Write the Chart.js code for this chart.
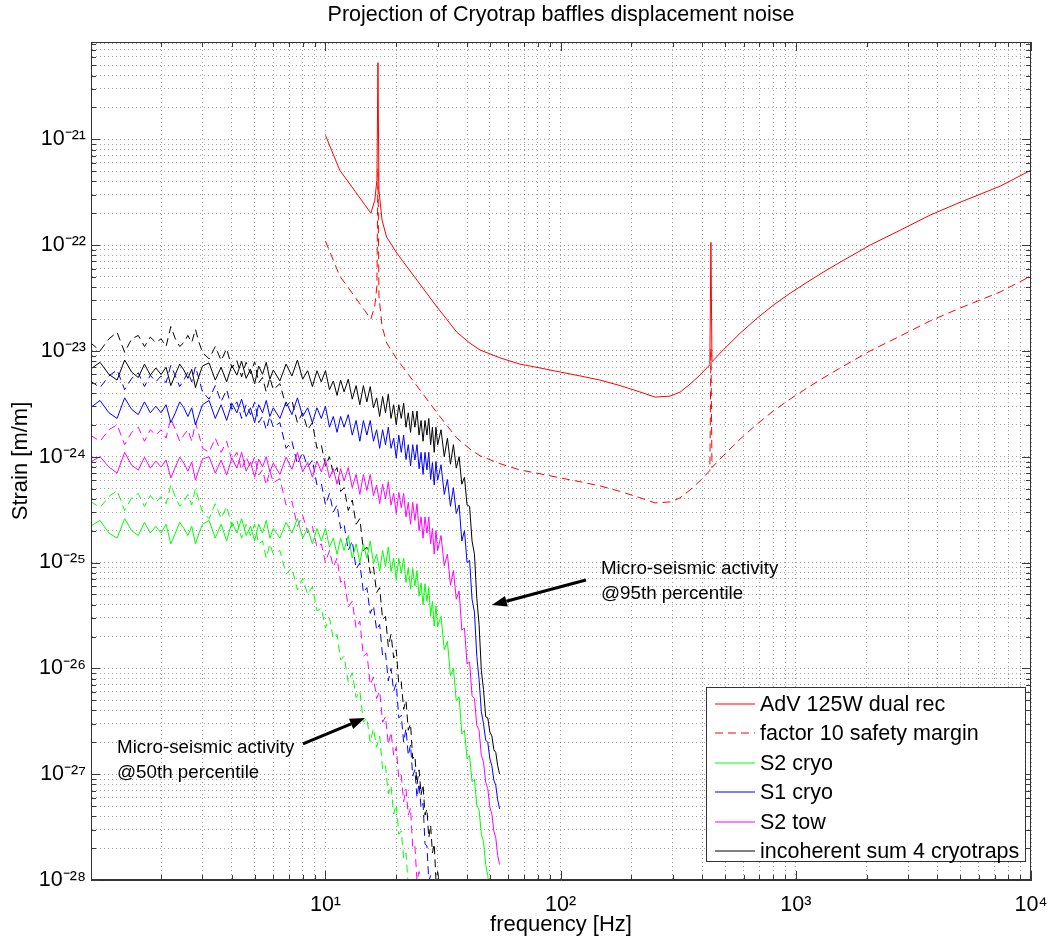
<!DOCTYPE html>
<html>
<head>
<meta charset="utf-8">
<script src="https://cdn.jsdelivr.net/npm/chart.js@4/dist/chart.umd.min.js"></script>
<style>
  html, body { margin: 0; padding: 0; background: #ffffff; }
  canvas { display: block; }
</style>
</head>
<body>
<canvas id="chart" width="1049" height="943"></canvas>
<script>
// ---------------- data ----------------
const noiseFreq = [
  1.0,1.1,1.2,1.3,1.4,1.5,1.6,1.7,1.8,1.9,
  2.0,2.1,2.2,2.3,2.4,2.5,2.6,2.7,2.8,2.9,
  3.0,3.2,3.4,3.6,3.8,4.0,4.2,4.4,4.6,4.8,
  5.0,5.2,5.4,5.6,5.8,6.0,6.4,6.8,7.2,7.6,
  8.0,8.4,8.8,9.2,9.6,10.0,10.4,10.8,11.2,11.6,
  12.0,12.5,13.0,13.5,14.0,14.5,15.0,15.5,16.0,16.5,
  17.0,17.5,18.0,18.5,19.0,19.5,20.0,20.5,21.0,21.5,
  22.0,22.5,23.0,23.5,24.0,24.5,25.0,25.5,26.0,26.5,
  27.0,27.5,28.0,28.5,29.0,29.5,30.0,31,32,33,
  34,35,36,37,38,39,40,41,42,43,
  44,45,46,47,48,49,50,51,52,53,
  54,55
];

// 95th percentile micro-seismic activity (solid lines)
const s2CryoP95 = [
  2.2e-25,2.5e-25,1.9e-25,1.7e-25,2.6e-25,2.0e-25,1.8e-25,2.4e-25,1.9e-25,2.2e-25,
  1.9e-25,2.3e-25,1.5e-25,1.9e-25,2.4e-25,2.1e-25,1.8e-25,2.2e-25,1.5e-25,1.9e-25,
  2.3e-25,2.5e-25,1.7e-25,2.3e-25,1.6e-25,2.4e-25,1.9e-25,2.6e-25,1.8e-25,2.2e-25,
  1.6e-25,2.3e-25,1.9e-25,2.5e-25,1.7e-25,2.1e-25,1.7e-25,2.4e-25,1.9e-25,2.6e-25,
  1.7e-25,2.1e-25,1.5e-25,2.1e-25,1.6e-25,2.1e-25,1.4e-25,1.7e-25,1.2e-25,1.7e-25,
  1.3e-25,1.8e-25,1.1e-25,1.5e-25,1.0e-25,1.5e-25,1.1e-25,1.6e-25,9.8e-26,1.2e-25,
  8.3e-26,1.3e-25,9.2e-26,1.4e-25,8.2e-26,1.1e-25,6.8e-26,1.1e-25,7.9e-26,1.1e-25,
  6.5e-26,8.9e-26,5.6e-26,8.8e-26,6.0e-26,8.4e-26,4.8e-26,6.4e-26,4.0e-26,6.3e-26,
  4.3e-26,5.8e-26,3.1e-26,4.3e-26,2.5e-26,3.9e-26,2.5e-26,3.1e-26,1.5e-26,1.8e-26,
  8.5e-27,1.0e-26,4.9e-27,5.4e-27,2.4e-27,2.6e-27,1.4e-27,1.5e-27,8.5e-28,8.9e-28,
  5.1e-28,4.6e-28,2.7e-28,2.3e-28,1.4e-28,1.1e-28,7.2e-29
];
const s1CryoP95 = [
  2.9e-24,3.4e-24,2.6e-24,2.3e-24,3.6e-24,2.8e-24,2.5e-24,3.3e-24,2.6e-24,3.0e-24,
  2.6e-24,3.1e-24,2.1e-24,2.6e-24,3.3e-24,2.9e-24,2.4e-24,2.9e-24,2.0e-24,2.5e-24,
  3.1e-24,3.4e-24,2.3e-24,3.1e-24,2.2e-24,3.2e-24,2.6e-24,3.5e-24,2.4e-24,2.9e-24,
  2.1e-24,3.1e-24,2.6e-24,3.4e-24,2.4e-24,2.9e-24,2.3e-24,3.3e-24,2.5e-24,3.6e-24,
  2.4e-24,2.9e-24,2.1e-24,2.9e-24,2.3e-24,3.0e-24,1.9e-24,2.4e-24,1.7e-24,2.4e-24,
  1.9e-24,2.5e-24,1.6e-24,2.2e-24,1.4e-24,2.2e-24,1.6e-24,2.2e-24,1.4e-24,1.8e-24,
  1.2e-24,1.8e-24,1.3e-24,1.9e-24,1.2e-24,1.5e-24,9.7e-25,1.6e-24,1.1e-24,1.6e-24,
  9.4e-25,1.3e-24,8.2e-25,1.3e-24,9.3e-25,1.3e-24,7.7e-25,1.1e-24,6.8e-25,1.1e-24,
  7.5e-25,1.1e-24,6.1e-25,8.8e-25,5.4e-25,9.0e-25,6.0e-25,8.4e-25,4.4e-25,6.1e-25,
  3.4e-25,5.1e-25,2.9e-25,3.5e-25,1.6e-25,2.0e-25,1.0e-25,1.05e-25,4.5e-26,3.4e-26,
  1.3e-26,7.8e-27,3.9e-27,3.0e-27,2.1e-27,2.0e-27,1.4e-27,1.2e-27,8.8e-28,7.8e-28,
  5.7e-28,4.7e-28
];
const s2TowP95 = [
  8.9e-25,1.0e-24,8.0e-25,7.0e-25,1.1e-24,8.3e-25,7.5e-25,9.9e-25,7.8e-25,9.1e-25,
  8.0e-25,9.3e-25,6.3e-25,8.0e-25,9.9e-25,8.7e-25,7.3e-25,8.9e-25,6.0e-25,7.6e-25,
  9.5e-25,1.0e-24,7.0e-25,9.3e-25,6.7e-25,9.7e-25,7.8e-25,1.1e-24,7.3e-25,8.9e-25,
  6.4e-25,9.5e-25,8.0e-25,1.0e-24,7.2e-25,8.7e-25,6.8e-25,9.9e-25,7.6e-25,1.1e-24,
  7.2e-25,8.8e-25,6.4e-25,9.1e-25,7.2e-25,9.4e-25,6.3e-25,7.7e-25,5.5e-25,7.7e-25,
  5.9e-25,7.9e-25,5.1e-25,6.8e-25,4.4e-25,6.8e-25,4.8e-25,6.8e-25,4.3e-25,5.4e-25,
  3.6e-25,5.5e-25,4.0e-25,5.8e-25,3.5e-25,4.5e-25,2.9e-25,4.6e-25,3.3e-25,4.5e-25,
  2.7e-25,3.7e-25,2.3e-25,3.7e-25,2.5e-25,3.6e-25,2.0e-25,2.7e-25,1.7e-25,2.7e-25,
  1.9e-25,2.7e-25,1.5e-25,2.1e-25,1.2e-25,2.0e-25,1.3e-25,1.8e-25,9.3e-26,1.2e-25,
  6.1e-26,8.4e-26,4.5e-26,5.4e-26,2.3e-26,2.4e-26,1.1e-26,1.15e-26,5.5e-27,5.2e-27,
  2.9e-27,2.6e-27,1.5e-27,1.3e-27,8.4e-28,7.3e-28,4.9e-28,4.2e-28,2.9e-28,2.5e-28,
  1.7e-28,1.4e-28
];
const sumP95 = [
  6.7e-24,7.8e-24,6.0e-24,5.3e-24,8.2e-24,6.3e-24,5.6e-24,7.5e-24,5.9e-24,6.9e-24,
  6.0e-24,7.0e-24,4.7e-24,6.0e-24,7.5e-24,6.6e-24,5.5e-24,6.7e-24,4.5e-24,5.8e-24,
  7.2e-24,7.7e-24,5.3e-24,7.0e-24,5.1e-24,7.3e-24,5.9e-24,8.0e-24,5.5e-24,6.7e-24,
  4.9e-24,7.2e-24,6.0e-24,7.8e-24,5.4e-24,6.6e-24,5.2e-24,7.5e-24,5.8e-24,8.2e-24,
  5.4e-24,6.5e-24,4.6e-24,6.5e-24,5.1e-24,6.5e-24,4.3e-24,5.2e-24,3.8e-24,5.3e-24,
  4.1e-24,5.4e-24,3.5e-24,4.7e-24,3.1e-24,4.7e-24,3.3e-24,4.6e-24,2.9e-24,3.6e-24,
  2.4e-24,3.7e-24,2.6e-24,3.9e-24,2.3e-24,3.1e-24,2.0e-24,3.1e-24,2.3e-24,3.2e-24,
  1.9e-24,2.6e-24,1.7e-24,2.7e-24,1.9e-24,2.7e-24,1.6e-24,2.2e-24,1.4e-24,2.2e-24,
  1.6e-24,2.3e-24,1.3e-24,1.9e-24,1.1e-24,1.9e-24,1.3e-24,1.8e-24,1.0e-24,1.5e-24,
  8.5e-25,1.3e-24,7.8e-25,1.0e-24,5.5e-25,6.4e-25,3.5e-25,3.4e-25,1.6e-25,1.2e-25,
  4.6e-26,2.6e-26,9.6e-27,6.3e-27,3.5e-27,3.4e-27,2.5e-27,2.3e-27,1.7e-27,1.6e-27,
  1.2e-27,1.0e-27
];

// 50th percentile micro-seismic activity (dashed lines)
const s2CryoP50 = [
  3.8e-25,3.3e-25,4.2e-25,4.8e-25,3.1e-25,4.1e-25,4.5e-25,3.4e-25,4.3e-25,3.7e-25,
  4.2e-25,3.6e-25,5.4e-25,4.2e-25,3.4e-25,3.8e-25,4.4e-25,3.5e-25,5.0e-25,3.8e-25,
  3.0e-25,2.6e-25,3.6e-25,2.6e-25,3.4e-25,2.2e-25,2.5e-25,1.7e-25,2.3e-25,1.8e-25,
  2.3e-25,1.5e-25,1.6e-25,1.1e-25,1.5e-25,1.2e-25,1.3e-25,7.8e-26,8.9e-26,5.5e-26,
  7.1e-26,5.0e-26,5.9e-26,3.5e-26,3.7e-26,2.4e-26,3.0e-26,1.9e-26,2.1e-26,1.2e-26,
  1.3e-26,7.4e-27,9.1e-27,5.3e-27,6.1e-27,3.1e-27,3.4e-27,2.0e-27,2.7e-27,1.8e-27,
  2.3e-27,1.1e-27,1.2e-27,6.5e-28,7.8e-28,4.2e-28,5.2e-28,2.7e-28,2.9e-28,1.6e-28,
  1.8e-28,8.7e-29
];
const s1CryoP50 = [
  5.2e-24,4.5e-24,5.8e-24,6.6e-24,4.3e-24,5.5e-24,6.2e-24,4.6e-24,5.9e-24,5.1e-24,
  5.8e-24,5.0e-24,7.3e-24,5.8e-24,4.6e-24,5.3e-24,6.3e-24,5.1e-24,7.1e-24,5.4e-24,
  4.1e-24,3.5e-24,4.7e-24,3.3e-24,4.3e-24,2.8e-24,3.3e-24,2.3e-24,3.1e-24,2.5e-24,
  3.3e-24,2.1e-24,2.4e-24,1.8e-24,2.4e-24,1.9e-24,2.1e-24,1.2e-24,1.4e-24,8.5e-25,
  1.1e-24,8.0e-25,9.3e-25,5.4e-25,5.6e-25,3.5e-25,4.5e-25,3.0e-25,3.5e-25,2.1e-25,
  2.3e-25,1.3e-25,1.6e-25,8.7e-26,9.9e-26,5.2e-26,5.8e-26,3.3e-26,3.9e-26,2.3e-26,
  2.6e-26,1.3e-26,1.4e-26,7.6e-27,1.0e-26,6.1e-27,7.2e-27,3.4e-27,3.6e-27,2.0e-27,
  2.7e-27,1.5e-27,1.9e-27,9.6e-28,1.1e-27,6.0e-28,8.2e-28,4.8e-28,5.3e-28,2.2e-28,
  2.1e-28,9.8e-29,1.1e-28,5.3e-29
];
const s2TowP50 = [
  1.6e-24,1.4e-24,1.8e-24,2.0e-24,1.3e-24,1.7e-24,1.9e-24,1.4e-24,1.8e-24,1.6e-24,
  1.8e-24,1.5e-24,2.3e-24,1.8e-24,1.4e-24,1.6e-24,1.8e-24,1.4e-24,2.1e-24,1.6e-24,
  1.2e-24,1.1e-24,1.5e-24,1.1e-24,1.4e-24,9.2e-25,1.1e-24,7.5e-25,1.0e-24,7.9e-25,
  1.0e-24,6.7e-25,7.5e-25,5.4e-25,7.4e-25,5.7e-25,6.2e-25,3.5e-25,3.8e-25,2.2e-25,
  2.8e-25,1.9e-25,2.2e-25,1.4e-25,1.5e-25,1.0e-25,1.3e-25,9.1e-26,1.1e-25,6.5e-26,
  7.0e-26,3.8e-26,4.3e-26,2.4e-26,2.8e-26,1.3e-26,1.4e-26,7.0e-27,8.3e-27,5.2e-27,
  6.1e-27,3.1e-27,3.5e-27,1.9e-27,2.5e-27,1.5e-27,1.8e-27,9.2e-28,9.9e-28,5.5e-28,
  7.2e-28,4.1e-28,4.8e-28,2.0e-28,2.1e-28,9.8e-29,1.2e-28,6.1e-29
];
const sumP50 = [
  1.2e-23,1.0e-23,1.3e-23,1.5e-23,9.7e-24,1.3e-23,1.4e-23,1.1e-23,1.35e-23,1.2e-23,
  1.3e-23,1.1e-23,1.7e-23,1.3e-23,1.1e-23,1.2e-23,1.4e-23,1.2e-23,1.6e-23,1.2e-23,
  9.7e-24,8.4e-24,1.1e-23,8.1e-24,1.05e-23,6.9e-24,8.1e-24,5.7e-24,7.8e-24,6.1e-24,
  7.9e-24,5.0e-24,5.6e-24,4.1e-24,5.6e-24,4.3e-24,4.9e-24,3.0e-24,3.4e-24,2.1e-24,
  2.6e-24,1.8e-24,2.1e-24,1.2e-24,1.3e-24,8.2e-25,1.0e-24,6.9e-25,7.9e-25,4.7e-25,
  5.1e-25,3.1e-25,3.9e-25,2.3e-25,2.6e-25,1.3e-25,1.4e-25,7.9e-26,9.1e-26,5.2e-26,
  5.8e-26,2.9e-26,3.1e-26,1.6e-26,2.1e-26,1.25e-26,1.5e-26,7.1e-27,7.5e-27,4.1e-27,
  5.0e-27,2.6e-27,3.0e-27,1.4e-27,1.5e-27,8.0e-28,1.1e-27,6.4e-28,8.0e-28,4.1e-28,
  4.7e-28,2.5e-28,3.3e-28,1.8e-28,2.2e-28,1.0e-28,1.2e-28,6.8e-29
];

// AdV 125W dual recycling sensitivity and the factor-10 safety margin
const advFreq = [
  10, 11.5, 13.4, 14.7, 15.6, 16.2, 16.55, 16.72, 16.88, 17.4,
  18.2, 20.1, 24.5, 29.8, 36.2, 41.2, 45.4, 55.2, 67.1, 81.7,
  100, 121, 147, 179, 217, 252, 292, 322, 355, 391,
  431, 435.5, 440, 491, 580, 685, 801, 946, 1117, 1307,
  1543, 2070, 2776, 3724, 4995, 7390, 10000
];
const advStrain = [
  1.09e-21, 5.1e-22, 3.2e-22, 2.4e-22, 2.0e-22, 2.65e-22, 4.1e-22, 5.3e-21, 3.3e-22, 1.72e-22,
  1.19e-22, 8.4e-23, 4.66e-23, 2.6e-23, 1.5e-23, 1.18e-23, 1.02e-23, 8.6e-24, 7.5e-24, 6.9e-24,
  6.3e-24, 5.8e-24, 5.3e-24, 4.7e-24, 4.1e-24, 3.66e-24, 3.74e-24, 4.08e-24, 4.85e-24, 5.9e-24,
  7.4e-24, 1.06e-22, 7.9e-24, 1.02e-23, 1.47e-23, 2.04e-23, 2.7e-23, 3.51e-23, 4.46e-23, 5.54e-23,
  6.89e-23, 1.0e-22, 1.38e-22, 1.92e-22, 2.54e-22, 3.6e-22, 5.1e-22
];
const advMargin = [
  1.09e-22, 5.1e-23, 3.2e-23, 2.4e-23, 2.0e-23, 2.65e-23, 4.1e-23, 5.3e-22, 3.3e-23, 1.72e-23,
  1.19e-23, 8.4e-24, 4.66e-24, 2.6e-24, 1.5e-24, 1.18e-24, 1.02e-24, 8.6e-25, 7.5e-25, 6.9e-25,
  6.3e-25, 5.8e-25, 5.3e-25, 4.7e-25, 4.1e-25, 3.66e-25, 3.74e-25, 4.08e-25, 4.85e-25, 5.9e-25,
  7.4e-25, 1.06e-23, 7.9e-25, 1.02e-24, 1.47e-24, 2.04e-24, 2.7e-24, 3.51e-24, 4.46e-24, 5.54e-24,
  6.89e-24, 1.0e-23, 1.38e-23, 1.92e-23, 2.54e-23, 3.6e-23, 5.1e-23
];

// tick labels
const xTickValues = [10, 100, 1000, 10000];
const xTickLabels = ['10\u00B9', '10\u00B2', '10\u00B3', '10\u2074'];
const yTickValues = [1e-28, 1e-27, 1e-26, 1e-25, 1e-24, 1e-23, 1e-22, 1e-21];
const yTickLabels = ['10\u207B\u00B2\u2078', '10\u207B\u00B2\u2077', '10\u207B\u00B2\u2076', '10\u207B\u00B2\u2075',
                     '10\u207B\u00B2\u2074', '10\u207B\u00B2\u00B3', '10\u207B\u00B2\u00B2', '10\u207B\u00B2\u00B9'];

// ---------------- helpers ----------------
const FONT = '"Liberation Sans", Arial, Helvetica, sans-serif';
const pts = (fs, vs) => vs.map((v, i) => ({ x: fs[i], y: v }));

function logGridTicks(min, max) {
  const out = [];
  const e0 = Math.floor(Math.log10(min)), e1 = Math.ceil(Math.log10(max));
  for (let e = e0; e <= e1; e++) {
    for (let m = 1; m <= 9; m++) {
      const v = m * Math.pow(10, e);
      if (v >= min * 0.99999 && v <= max * 1.00001) out.push({ value: v });
    }
  }
  return out;
}
function labelFor(values, labels) {
  return function (value) {
    for (let i = 0; i < values.length; i++) {
      if (Math.abs(Math.log10(value) - Math.log10(values[i])) < 1e-6) return labels[i];
    }
    return '';
  };
}
function isDecade(v) {
  const l = Math.log10(v);
  return Math.abs(l - Math.round(l)) < 1e-6;
}

// ---------------- plugins ----------------
const framePlugin = {
  id: 'frameTicks',
  afterDatasetsDraw(chart) {
    const { ctx, chartArea: a, scales } = chart;
    ctx.save();
    ctx.strokeStyle = '#3a3a3a';
    ctx.lineWidth = 1;
    ctx.beginPath();
    for (const t of scales.x.ticks) {
      const px = Math.round(scales.x.getPixelForValue(t.value)) + 0.5;
      const len = isDecade(t.value) ? 9 : 5;
      ctx.moveTo(px, a.bottom); ctx.lineTo(px, a.bottom - len);
      ctx.moveTo(px, a.top); ctx.lineTo(px, a.top + len);
    }
    for (const t of scales.y.ticks) {
      const py = Math.round(scales.y.getPixelForValue(t.value)) + 0.5;
      const len = isDecade(t.value) ? 9 : 5;
      ctx.moveTo(a.left, py); ctx.lineTo(a.left + len, py);
      ctx.moveTo(a.right, py); ctx.lineTo(a.right - len, py);
    }
    ctx.stroke();
    ctx.strokeStyle = '#333';
    ctx.strokeRect(Math.round(a.left) + 0.5, Math.round(a.top) + 0.5,
                   Math.round(a.right - a.left) - 1, Math.round(a.bottom - a.top) - 1);
    ctx.restore();
  }
};

const calloutPlugin = {
  id: 'callouts',
  afterDatasetsDraw(chart, args, opts) {
    const { ctx, scales } = chart;
    ctx.save();
    for (const c of opts.items || []) {
      const tx = scales.x.getPixelForValue(c.text.x), ty = scales.y.getPixelForValue(c.text.y);
      ctx.fillStyle = '#000';
      ctx.font = opts.fontSize + 'px ' + FONT;
      ctx.textAlign = 'left';
      ctx.textBaseline = 'middle';
      c.lines.forEach((ln, i) => ctx.fillText(ln, tx, ty + i * opts.lineGap));
      const x0 = scales.x.getPixelForValue(c.tail.x), y0 = scales.y.getPixelForValue(c.tail.y);
      const x1 = scales.x.getPixelForValue(c.tip.x), y1 = scales.y.getPixelForValue(c.tip.y);
      const ang = Math.atan2(y1 - y0, x1 - x0);
      const hl = 15, hw = 5.5;
      const bx = x1 - hl * Math.cos(ang), by = y1 - hl * Math.sin(ang);
      ctx.strokeStyle = '#000';
      ctx.lineWidth = 3;
      ctx.beginPath(); ctx.moveTo(x0, y0); ctx.lineTo(bx, by); ctx.stroke();
      ctx.beginPath();
      ctx.moveTo(x1, y1);
      ctx.lineTo(bx + hw * Math.sin(ang), by - hw * Math.cos(ang));
      ctx.lineTo(bx - hw * Math.sin(ang), by + hw * Math.cos(ang));
      ctx.closePath(); ctx.fillStyle = '#000'; ctx.fill();
    }
    ctx.restore();
  }
};

const insetLegend = {
  id: 'insetLegend',
  afterDatasetsDraw(chart, args, opts) {
    const { ctx, chartArea: a } = chart;
    const items = chart.data.datasets.filter(d => d.inLegend);
    ctx.save();
    ctx.font = opts.fontSize + 'px ' + FONT;
    const tw = Math.max(...items.map(d => ctx.measureText(d.label).width));
    const w = Math.round(54 + tw + 6), h = opts.padTop + (items.length - 1) * opts.rowH + opts.padBottom;
    const right = Math.round(a.right - opts.insetRight), bottom = Math.round(a.bottom - opts.insetBottom);
    const left = right - w, top = bottom - h;
    ctx.fillStyle = '#fff';
    ctx.fillRect(left, top, w, h);
    ctx.strokeStyle = '#333'; ctx.lineWidth = 1;
    ctx.strokeRect(left + 0.5, top + 0.5, w, h);
    items.forEach((d, i) => {
      const cy = Math.round(top + opts.padTop + i * opts.rowH);
      ctx.save();
      ctx.strokeStyle = d.borderColor; ctx.lineWidth = 1;
      ctx.setLineDash(d.borderDash || []);
      ctx.beginPath(); ctx.moveTo(left + 9, cy); ctx.lineTo(left + 49, cy); ctx.stroke();
      ctx.restore();
      ctx.fillStyle = '#000'; ctx.textAlign = 'left'; ctx.textBaseline = 'middle';
      ctx.fillText(d.label, left + 54, cy + 1);
    });
    ctx.restore();
  }
};

// ---------------- chart ----------------
const DASH = [8, 5];
const line = (label, fs, vs, color, dash, inLegend) => ({
  label, data: pts(fs, vs), borderColor: color, backgroundColor: color,
  borderWidth: 1, borderDash: dash || [], pointRadius: 0, fill: false, tension: 0, inLegend: !!inLegend
});

const datasets = [
  line('AdV 125W dual rec', advFreq, advStrain, '#ff0000', null, true),
  line('factor 10 safety margin', advFreq, advMargin, '#ff0000', DASH, true),
  line('S2 cryo', noiseFreq, s2CryoP95, '#00ff00', null, true),
  line('S1 cryo', noiseFreq, s1CryoP95, '#0000ff', null, true),
  line('S2 tow', noiseFreq, s2TowP95, '#ff00ff', null, true),
  line('incoherent sum 4 cryotraps', noiseFreq, sumP95, '#000000', null, true),
  line('S2 cryo (50th percentile)', noiseFreq, s2CryoP50, '#00ff00', DASH, false),
  line('S1 cryo (50th percentile)', noiseFreq, s1CryoP50, '#0000ff', DASH, false),
  line('S2 tow (50th percentile)', noiseFreq, s2TowP50, '#ff00ff', DASH, false),
  line('incoherent sum 4 cryotraps (50th percentile)', noiseFreq, sumP50, '#000000', DASH, false)
];

const gridStyle = { color: 'rgba(0,0,0,0.36)', lineWidth: 1, drawTicks: false };
const borderStyle = { display: true, color: '#333', width: 1, dash: [1, 3] };

new Chart(document.getElementById('chart'), {
  type: 'line',
  data: { datasets },
  options: {
    responsive: false,
    animation: false,
    devicePixelRatio: 1,
    events: [],
    parsing: false,
    layout: { padding: { left: 0, right: 18, top: 0, bottom: 0 } },
    plugins: {
      legend: { display: false },
      tooltip: { enabled: false },
      title: {
        display: true,
        fullSize: false,
        text: 'Projection of Cryotrap baffles displacement noise',
        color: '#000',
        font: { family: FONT, size: 21.5, weight: 'normal', lineHeight: 1.2 },
        padding: { top: 2, bottom: 14.2 }
      },
      callouts: {
        fontSize: 18.8,
        lineGap: 25,
        items: [
          { lines: ['Micro-seismic activity', '@95th percentile'],
            text: { x: 148.4, y: 8.66e-26 }, tail: { x: 128.1, y: 6.83e-26 }, tip: { x: 51.0, y: 3.96e-26 } },
          { lines: ['Micro-seismic activity', '@50th percentile'],
            text: { x: 1.299, y: 1.77e-27 }, tail: { x: 8.02, y: 1.93e-27 }, tip: { x: 14.72, y: 3.39e-27 } }
        ]
      },
      insetLegend: { fontSize: 21.5, rowH: 29.4, padTop: 17, padBottom: 10, insetRight: 6, insetBottom: 19 }
    },
    scales: {
      x: {
        type: 'logarithmic',
        position: 'bottom',
        min: 1.007,
        max: 10000,
        afterBuildTicks: s => { s.ticks = logGridTicks(s.min, s.max); },
        afterFit: s => { s.height = 63; s.paddingLeft = 0; s.paddingRight = 0; },
        ticks: {
          autoSkip: false, maxRotation: 0, minRotation: 0, padding: 12, color: '#000',
          font: { family: FONT, size: 21.5 },
          callback: labelFor(xTickValues, xTickLabels)
        },
        grid: gridStyle,
        border: borderStyle,
        title: {
          display: true, text: 'frequency [Hz]', color: '#000',
          font: { family: FONT, size: 22 }, padding: { top: 0, bottom: 5 }
        }
      },
      y: {
        type: 'logarithmic',
        position: 'left',
        min: 1e-28,
        max: 8.3e-21,
        afterBuildTicks: s => { s.ticks = logGridTicks(s.min, s.max); },
        afterFit: s => { s.width = 91; s.paddingTop = 0; s.paddingBottom = 0; },
        ticks: {
          autoSkip: false, padding: 5, color: '#000',
          font: { family: FONT, size: 21.5 },
          callback: labelFor(yTickValues, yTickLabels)
        },
        grid: gridStyle,
        border: borderStyle,
        title: {
          display: true, text: 'Strain [m/m]', color: '#000',
          font: { family: FONT, size: 22 }, padding: { top: 8, bottom: 0 }
        }
      }
    }
  },
  plugins: [framePlugin, calloutPlugin, insetLegend]
});
</script>
</body>
</html>
